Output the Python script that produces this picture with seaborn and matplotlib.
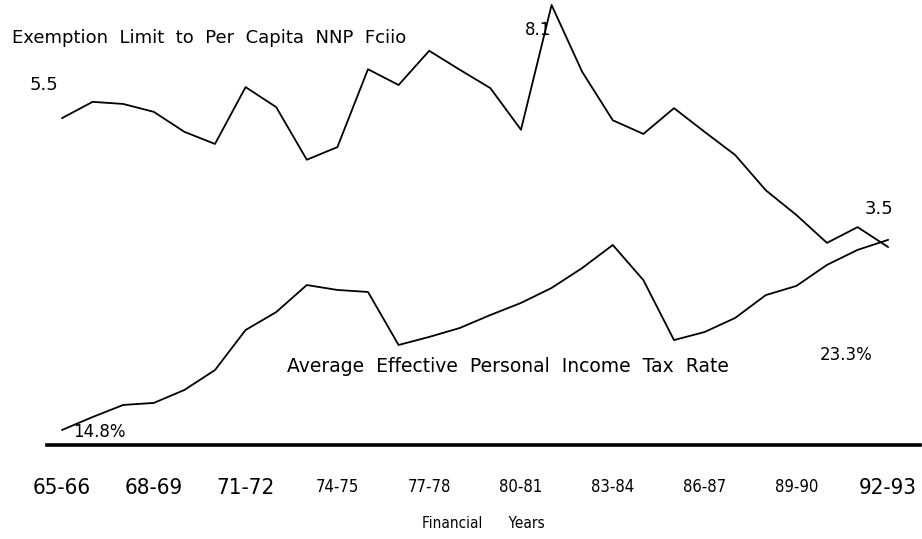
import numpy as np
import pandas as pd
import matplotlib.pyplot as plt
import seaborn as sns

# data
years = ['65-66', '66-67', '67-68', '68-69', '69-70', '70-71', '71-72', '72-73', '73-74', '74-75',
         '75-76', '76-77', '77-78', '78-79', '79-80', '80-81', '81-82', '82-83', '83-84', '84-85',
         '85-86', '86-87', '87-88', '88-89', '89-90', '90-91', '91-92', '92-93']
exemption_ratio = [5.95, 6.26, 6.22, 6.07, 5.69, 5.46, 6.54, 6.16, 5.16, 5.40,
                   6.88, 6.58, 7.23, 6.87, 6.52, 5.73, 8.10, 6.83, 5.91, 5.65,
                   6.14, 5.69, 5.25, 4.58, 4.11, 3.58, 3.88, 3.50]
tax_rate = [14.8, 15.38, 15.92, 16.01, 16.59, 17.48, 19.27, 20.07, 21.28, 21.06,
            20.97, 18.60, 18.96, 19.36, 19.94, 20.48, 21.15, 22.04, 23.07, 21.50,
            18.82, 19.18, 19.81, 20.83, 21.24, 22.18, 22.85, 23.3]
tick_years = years[::3]

df = pd.DataFrame({'idx': np.arange(len(years)), 'year': years,
                   'ratio': exemption_ratio, 'tax': tax_rate})

sns.set_style('white')
plt.rcParams['font.family'] = ['DejaVu Sans']
plt.rcParams['text.color'] = 'black'
plt.rcParams['xtick.color'] = 'black'
plt.rcParams['axes.labelcolor'] = 'black'

fig = plt.figure(figsize=(9.22, 5.39), dpi=100)
ax = fig.add_axes([47/922, 94/539, 873/922, 445/539])
ax2 = ax.twinx()

sns.lineplot(data=df, x='idx', y='ratio', ax=ax, color='black', lw=1.3)
sns.lineplot(data=df, x='idx', y='tax', ax=ax2, color='black', lw=1.3)

ax.set_xlim(-0.49, 28.04)
ax.set_ylim(-0.26, 8.195)
ax2.set_ylim(14.13, 34.02)

for a in (ax, ax2):
    for s in ['top', 'left', 'right']:
        a.spines[s].set_visible(False)
    a.set_yticks([])
    a.set_ylabel('')
ax.spines['bottom'].set_linewidth(2.6)
ax.spines['bottom'].set_color('black')
ax2.spines['bottom'].set_visible(False)

ax.set_xticks(range(0, len(years), 3))
ax.set_xticklabels(tick_years, fontstretch='condensed')
big = {'65-66', '68-69', '71-72', '92-93'}
for lab in ax.get_xticklabels():
    lab.set_fontsize(16 if lab.get_text() in big else 12)
ax.tick_params(axis='x', length=0, pad=24)
ax.set_xlabel('Financial      Years', fontsize=11, labelpad=13, fontstretch='condensed')

# annotations
def ftext(x, y, s, **kw):
    fig.text(x/922, 1 - y/539, s, va='center', **kw)

ftext(12, 38, 'Exemption  Limit  to  Per  Capita  NNP  Fciio', fontsize=13)
ftext(30, 85, '5.5', fontsize=13)
ftext(525, 30, '8.1', fontsize=12)
ftext(865, 209, '3.5', fontsize=13)
ftext(287, 367, 'Average  Effective  Personal  Income  Tax  Rate', fontsize=13.5)
ftext(820, 355, '23.3%', fontsize=12)
ftext(73, 432, '14.8%', fontsize=12)

fig.savefig('out.png', dpi=100)
